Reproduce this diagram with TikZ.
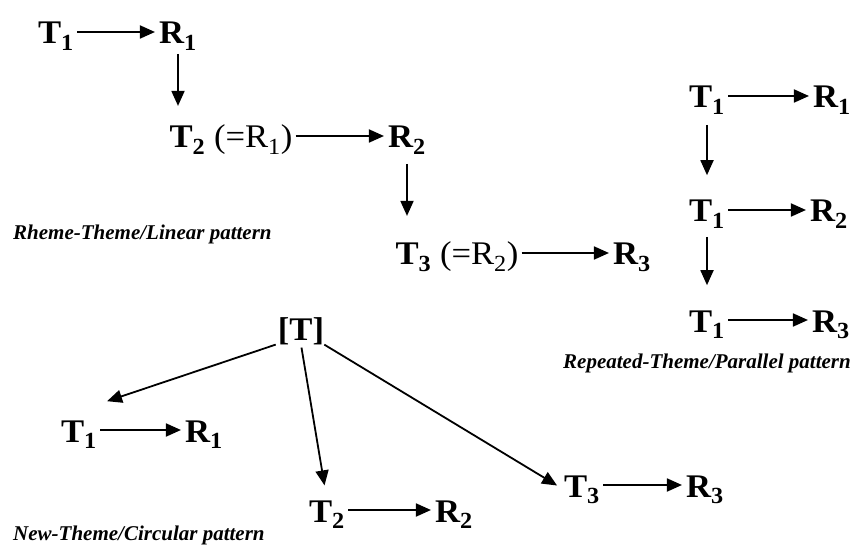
\documentclass[tikz,border=0pt]{standalone}
\usepackage{fontspec}
\setmainfont{Liberation Serif}
\newfontfamily\termfont{Liberation Serif}[FakeStretch=1.05]
\usetikzlibrary{arrows.meta, positioning, calc}
\tikzset{
  term/.style={font=\termfont\fontsize{33}{39}\selectfont\bfseries, inner sep=0pt, anchor=base},
  caption/.style={font=\fontsize{21}{25}\selectfont\bfseries\itshape, inner sep=0pt, anchor=base west},
  arrow/.style={-{Triangle[length=15pt,width=13pt]}, line width=1.8pt, color=black},
  harrow/.style={arrow, shorten <=3pt, shorten >=4pt}
}
\newcommand{\ts}[2]{#1\textsubscript{#2}}
\newcommand{\hlink}[2]{\draw[harrow] ([yshift=12pt]#1.base east) -- ([yshift=12pt]#2.base west);}

\begin{document}
\begin{tikzpicture}[x=1pt, y=-1pt]
  \useasboundingbox (0,0) rectangle (854,545);

  % Linear pattern
  \node[term] (lt1) at (56,44) {\ts{T}{1}};
  \node[term] (lr1) at (178,44) {\ts{R}{1}};
  \node[term] (lt2) at (231,148) {\ts{T}{2} {\mdseries (=\ts{R}{1})}};
  \node[term] (lr2) at (407,148) {\ts{R}{2}};
  \node[term] (lt3) at (457,265) {\ts{T}{3} {\mdseries (=\ts{R}{2})}};
  \node[term] (lr3) at (632,265) {\ts{R}{3}};
  \hlink{lt1}{lr1}
  \hlink{lt2}{lr2}
  \hlink{lt3}{lr3}
  \draw[arrow, shorten <=3pt, shorten >=19pt] (lr1.south) -- (lr1.south |- lt2.north);
  \draw[arrow, shorten <=9pt, shorten >=26pt] (lr2.south) -- (lr2.south |- lt3.north);
  \node[caption] (lcap) at (13,240) {Rheme-Theme/Linear pattern};

  % Parallel pattern
  \node[term] (pt1) at (707,108) {\ts{T}{1}};
  \node[term] (pr1) at (832,108) {\ts{R}{1}};
  \node[term] (pt2) at (707,222) {\ts{T}{1}};
  \node[term] (pr2) at (829,222) {\ts{R}{2}};
  \node[term] (pt3) at (707,332) {\ts{T}{1}};
  \node[term] (pr3) at (831,332) {\ts{R}{3}};
  \hlink{pt1}{pr1}
  \hlink{pt2}{pr2}
  \hlink{pt3}{pr3}
  \draw[arrow, shorten <=10pt, shorten >=25pt] (pt1.south) -- (pt2.north);
  \draw[arrow, shorten <=8pt, shorten >=25pt] (pt2.south) -- (pt3.north);
  \node[caption] (pcap) at (563,368) {Repeated-Theme/Parallel pattern};

  % Circular pattern
  \node[term] (ct) at (301,340) {[T]};
  \node[term] (ct1) at (79,442) {\ts{T}{1}};
  \node[term] (cr1) at (204,442) {\ts{R}{1}};
  \node[term] (ct2) at (327,522) {\ts{T}{2}};
  \node[term] (cr2) at (454,522) {\ts{R}{2}};
  \node[term] (ct3) at (582,497) {\ts{T}{3}};
  \node[term] (cr3) at (705,497) {\ts{R}{3}};
  \hlink{ct1}{cr1}
  \hlink{ct2}{cr2}
  \hlink{ct3}{cr3}
  \draw[arrow] ([xshift=-2pt]ct.south west) -- ([xshift=10pt,yshift=19pt]ct1.north east);
  \draw[arrow, shorten <=3pt, shorten >=15pt] (ct.south) -- (ct2.north);
  \draw[arrow, shorten >=8pt] (ct.south east) -- (ct3.west);
  \node[caption] (ccap) at (13,540) {New-Theme/Circular pattern};
\end{tikzpicture}
\end{document}
